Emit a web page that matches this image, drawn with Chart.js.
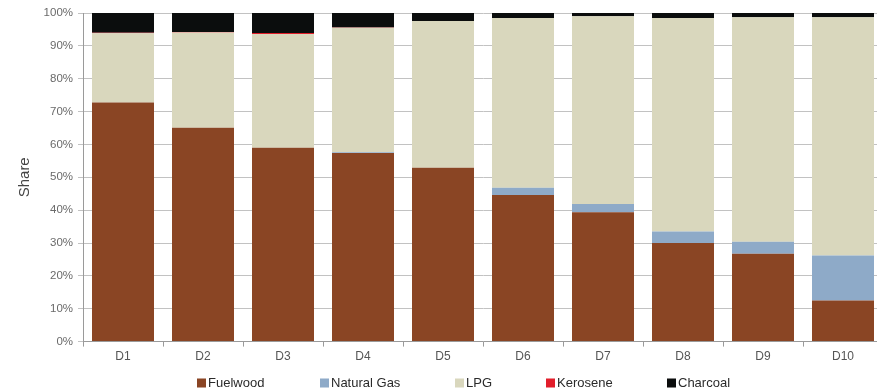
<!DOCTYPE html>
<html>
<head>
<meta charset="utf-8">
<script src="https://cdn.jsdelivr.net/npm/chart.js@4/dist/chart.umd.min.js"></script>
<style>
  html, body { margin: 0; padding: 0; background: #fff; overflow: hidden; }
  #wrap { width: 877px; height: 390px; overflow: hidden; }
  canvas { display: block; }
</style>
</head>
<body>
<div id="wrap"><canvas id="c" width="886" height="390"></canvas></div>
<script>
// Household cooking fuel shares by decile (%)
const deciles = ['D1', 'D2', 'D3', 'D4', 'D5', 'D6', 'D7', 'D8', 'D9', 'D10'];
const fuelwood   = [72.8, 65.1, 59.0, 57.4, 52.9, 44.6, 39.4, 30.0, 26.7, 12.5];
const naturalGas = [0.0, 0.0, 0.0, 0.2, 0.0, 2.2, 2.5, 3.5, 3.7, 13.7];
const lpg        = [21.0, 29.0, 34.6, 37.9, 44.7, 51.7, 57.1, 65.0, 68.3, 72.5];
const kerosene   = [0.2, 0.1, 0.3, 0.1, 0.0, 0.0, 0.0, 0.0, 0.0, 0.0];
const charcoal   = [6.0, 5.8, 6.1, 4.4, 2.4, 1.5, 1.0, 1.5, 1.3, 1.3];
const yTicks     = [0, 10, 20, 30, 40, 50, 60, 70, 80, 90, 100];

const series = [
  { label: 'Fuelwood',    data: fuelwood,   color: '#8a4524' },
  { label: 'Natural Gas', data: naturalGas, color: '#8eaac8' },
  { label: 'LPG',         data: lpg,        color: '#d9d7bd' },
  { label: 'Kerosene',    data: kerosene,   color: '#e21e2b' },
  { label: 'Charcoal',    data: charcoal,   color: '#0b0d0d' }
];

const FONT = 'Liberation Sans, Arial, Helvetica, sans-serif';

// Legend row along the bottom, one swatch + label per dataset
const legendX = [197, 320, 455, 546, 667];
const bottomLegend = {
  id: 'bottomLegend',
  afterDraw(chart) {
    const ctx = chart.ctx;
    const y = 383;
    ctx.save();
    ctx.font = '13px ' + FONT;
    ctx.textBaseline = 'middle';
    ctx.textAlign = 'left';
    chart.data.datasets.forEach((ds, i) => {
      const x = legendX[i];
      ctx.fillStyle = ds.backgroundColor;
      ctx.fillRect(x, y - 4.5, 9, 9);
      ctx.fillStyle = '#2a2a2a';
      ctx.fillText(ds.label, x + 11, y);
    });
    ctx.restore();
  }
};

new Chart(document.getElementById('c'), {
  type: 'bar',
  data: {
    labels: deciles,
    datasets: series.map(s => ({
      label: s.label,
      data: s.data,
      backgroundColor: s.color,
      borderWidth: 0,
      barPercentage: 0.775,
      categoryPercentage: 1.0
    }))
  },
  plugins: [bottomLegend],
  options: {
    responsive: false,
    animation: false,
    layout: { padding: { left: 0, right: 3, top: 13, bottom: 23 } },
    plugins: {
      legend: { display: false },
      tooltip: { enabled: false }
    },
    scales: {
      x: {
        stacked: true,
        offset: true,
        grid: {
          offset: true,
          drawOnChartArea: false,
          drawTicks: true,
          tickLength: 5,
          color: '#9a9a9a'
        },
        border: { color: '#9a9a9a' },
        ticks: { color: '#555', font: { family: FONT, size: 12 }, padding: 3, maxRotation: 0 }
      },
      y: {
        stacked: true,
        min: 0,
        max: 100,
        afterBuildTicks: axis => { axis.ticks = yTicks.map(v => ({ value: v })); },
        afterFit: axis => { axis.width = 83; },
        grid: { color: '#c2c2c2', tickLength: 5, lineWidth: 1 },
        border: { color: '#9a9a9a' },
        ticks: {
          color: '#6a6a6a',
          font: { family: FONT, size: 11.5 },
          padding: 5,
          callback: v => v + '%'
        },
        title: {
          display: true,
          text: 'Share',
          color: '#444',
          font: { family: FONT, size: 15 },
          padding: { top: 16, bottom: 0 }
        }
      }
    }
  }
});
</script>
</body>
</html>
